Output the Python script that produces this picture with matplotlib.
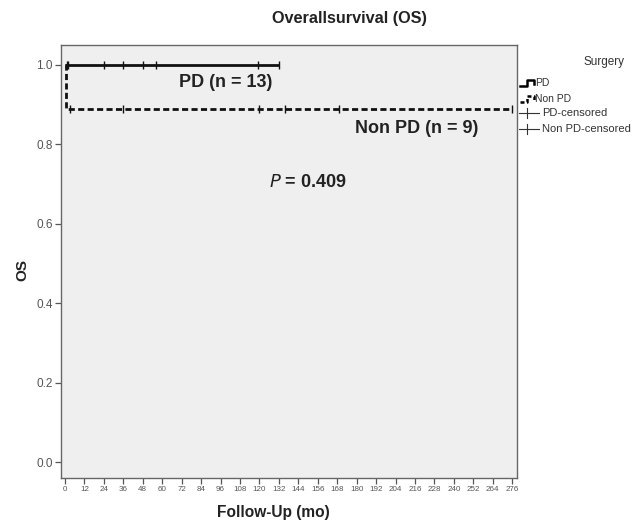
import numpy as np
import matplotlib
matplotlib.use("Agg")
import matplotlib.pyplot as plt
from matplotlib.lines import Line2D

plt.rcParams["font.family"] = ["Liberation Sans", "DejaVu Sans"]

# Follow-up (months) and event flags (1 = death, 0 = censored)
pd_times = [1, 2, 2, 24, 24, 36, 48, 48, 56, 119, 119, 132, 132]
pd_events = [0] * 13
nonpd_times = [0.5, 3, 36, 120, 120, 136, 169, 169, 276]
nonpd_events = [1, 0, 0, 0, 0, 0, 0, 0, 0]

x_ticks = list(range(0, 277, 12))
y_ticks = [0.0, 0.2, 0.4, 0.6, 0.8, 1.0]
p_value = 0.409


def kaplan_meier(times, events):
    t = np.asarray(times, float)
    e = np.asarray(events, int)
    order = np.argsort(t, kind="stable")
    t, e = t[order], e[order]
    xs, ys = [0.0], [1.0]
    s = 1.0
    at_risk = len(t)
    cens_t, cens_s = [], []
    for ut in np.unique(t):
        mask = t == ut
        d = e[mask].sum()
        c = (mask & (e == 0)).sum()
        if d > 0:
            xs.append(ut); ys.append(s)
            s *= 1 - d / at_risk
            xs.append(ut); ys.append(s)
        if c > 0:
            cens_t.append(ut); cens_s.append(s)
        at_risk -= mask.sum()
    xs.append(t.max()); ys.append(s)
    return xs, ys, cens_t, cens_s


fig = plt.figure(figsize=(6.40, 5.21), dpi=100)
ax = fig.add_axes([61 / 640, 1 - 478 / 521, 456 / 640, 433 / 521])
ax.set_facecolor("#efefef")

gx, gy, gct, gcs = kaplan_meier(pd_times, pd_events)
ax.plot(gx, gy, color="#111111", lw=2.0, solid_capstyle="butt", zorder=3)
ax.plot(gct, gcs, ls="none", marker="|", ms=5.5, mew=1.0, color="#111111", zorder=4)

nx, ny, nct, ncs = kaplan_meier(nonpd_times, nonpd_events)
ax.plot(nx, ny, color="#111111", lw=2.0, ls=(0, (2.2, 1.2)), zorder=3)
ax.plot(nct, ncs, ls="none", marker="|", ms=5.5, mew=1.0, color="#111111", zorder=4)

ax.set_xlim(-2.5, 279)
ax.set_ylim(-0.04, 1.05)
ax.set_xticks(x_ticks)
ax.set_xticklabels([str(v) for v in x_ticks], fontsize=5.8, color="#555555")
ax.set_yticks(y_ticks)
ax.set_yticklabels([f"{v:.1f}" for v in y_ticks], fontsize=8.5, color="#555555")
ax.tick_params(direction="out", length=4, width=0.9, color="#555555", pad=2)
for sp in ax.spines.values():
    sp.set_color("#666666")
    sp.set_linewidth(1.0)

# Titles and axis labels
fig.text(349 / 640, 1 - 18 / 521, "Overallsurvival (OS)", ha="center", va="center",
         fontsize=11.7, fontweight="bold", color="#222222")
fig.text(273 / 640, 1 - 512 / 521, "Follow-Up (mo)", ha="center", va="center",
         fontsize=11.2, fontweight="bold", color="#222222")
fig.text(22 / 640, 1 - 270 / 521, "OS", ha="center", va="center", rotation=90,
         fontsize=11, fontweight="bold", color="#222222")

# In-plot annotations
ax.text(99, 0.955, "PD (n = 13)", ha="center", va="center", fontsize=13,
        fontweight="bold", color="#222222")
ax.text(217, 0.841, "Non PD (n = 9)", ha="center", va="center", fontsize=13,
        fontweight="bold", color="#222222")
ax.text(150, 0.703, r"$\mathbf{\mathit{P}}$" + f" = {p_value}", ha="center", va="center",
        fontsize=13, fontweight="bold", color="#222222")

# Legend drawn in figure pixels
def fx(px):
    return px / 640


def fy(py):
    return 1 - py / 521


fig.text(fx(604), fy(62), "Surgery", ha="center", va="center", fontsize=8.5, color="#333333")
# PD step icon
fig.add_artist(Line2D([fx(520), fx(527), fx(527), fx(534), fx(534)],
                      [fy(86), fy(86), fy(80), fy(80), fy(84)],
                      color="black", lw=1.8, transform=fig.transFigure))
fig.text(fx(535), fy(83), "PD", ha="left", va="center", fontsize=7.5, color="#333333")
# Non PD step icon
fig.add_artist(Line2D([fx(520), fx(527), fx(527), fx(534), fx(534)],
                      [fy(102), fy(102), fy(96), fy(96), fy(101)],
                      color="black", lw=1.8, ls=(0, (1.6, 1.0)), transform=fig.transFigure))
fig.text(fx(535), fy(99), "Non PD", ha="left", va="center", fontsize=7.5, color="#333333")
# Censor icons
for py, lab in [(113, "PD-censored"), (129, "Non PD-censored")]:
    fig.add_artist(Line2D([fx(519), fx(539)], [fy(py), fy(py)], color="#333333", lw=0.8,
                          transform=fig.transFigure))
    fig.add_artist(Line2D([fx(527), fx(527)], [fy(py - 5), fy(py + 5)], color="#333333",
                          lw=0.8, transform=fig.transFigure))
    fig.text(fx(542), fy(py), lab, ha="left", va="center", fontsize=8, color="#333333")

fig.savefig("out.png", dpi=100, facecolor="white")
